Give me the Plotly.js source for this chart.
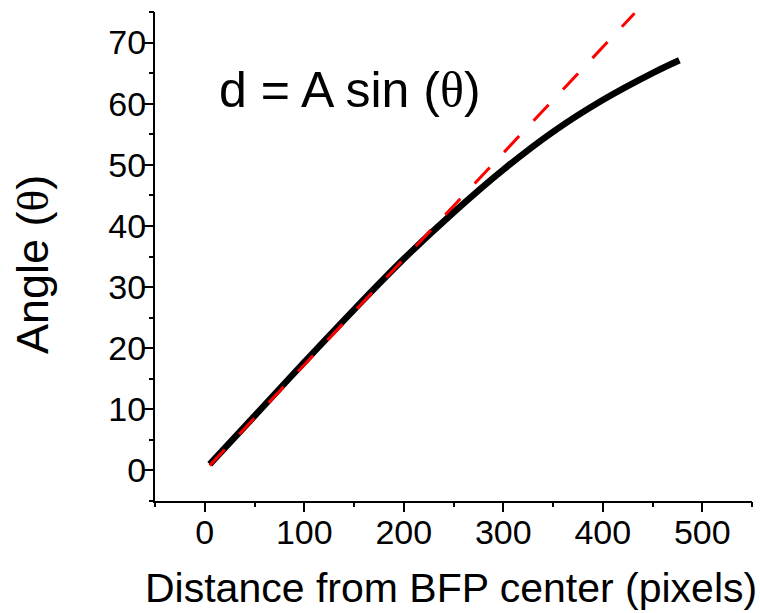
<!DOCTYPE html>
<html>
<head>
<meta charset="utf-8">
<script src="https://cdn.plot.ly/plotly-3.0.1.min.js"></script>
<style>html,body{margin:0;padding:0;background:#fff;}#chart{width:760px;height:613px;}</style>
</head>
<body>
<div id="chart"></div>
<script>
// Measured curve: angle vs distance from BFP center
var distance = [5, 50, 100, 150, 200, 250, 300, 350, 400, 450, 477];
var angle = [1.0, 8.9, 17.7, 26.3, 34.6, 42.2, 49.2, 55.4, 60.6, 65.0, 67.1];
// Linear (small-angle) approximation, red dashed
var linearDistance = [5, 432];
var linearAngle = [0.8, 74.8];
var xTickVals = [0, 100, 200, 300, 400, 500];
var yTickVals = [0, 10, 20, 30, 40, 50, 60, 70];
var xRange = [-50, 550];
var yRange = [-5, 75];
var xTitle = 'Distance from BFP center (pixels)';
var yTitle = 'Angle (<span style="font-family:Liberation Serif">θ</span>)';
var formula = 'd = A sin (<span style="font-family:Liberation Serif">θ</span>)';

var FONT = '"Liberation Sans", Arial, sans-serif';

var traces = [
  {x: distance, y: angle, type: 'scatter', mode: 'lines',
   line: {color: '#000000', width: 6.5, shape: 'spline', smoothing: 1}, hoverinfo: 'skip'},
  {x: linearDistance, y: linearAngle, type: 'scatter', mode: 'lines',
   line: {color: '#ff0000', width: 3, dash: '22px,21px'}, hoverinfo: 'skip'},
  {x: [], y: [], xaxis: 'x2', yaxis: 'y2', type: 'scatter', mode: 'lines', hoverinfo: 'skip'}
];

var tickAxis = function (range, dtick, minorDtick, anchor, overlay) {
  return {
    range: range, showgrid: false, zeroline: false, showline: false,
    overlaying: overlay, anchor: anchor,
    ticks: 'outside', ticklen: 10, tickwidth: 2, tickcolor: '#000',
    tick0: 0, dtick: dtick, showticklabels: false,
    minor: {dtick: minorDtick, tick0: 0, ticks: 'outside', ticklen: 5, tickwidth: 2, tickcolor: '#000'}
  };
};

var layout = {
  width: 760, height: 613,
  margin: {l: 155, r: 8, t: 12, b: 112, pad: 0},
  paper_bgcolor: '#ffffff', plot_bgcolor: '#ffffff',
  showlegend: false,
  font: {family: FONT, color: '#000000'},
  xaxis: {
    range: xRange, showgrid: false, zeroline: false,
    showline: true, linecolor: '#000', linewidth: 2, mirror: false,
    ticks: '', tickmode: 'array', tickvals: xTickVals,
    tickfont: {size: 34, family: FONT, color: '#000'}
  },
  yaxis: {
    range: yRange, showgrid: false, zeroline: false,
    showline: true, linecolor: '#000', linewidth: 2, mirror: false,
    ticks: '', tickmode: 'array', tickvals: yTickVals,
    tickfont: {size: 34, family: FONT, color: '#000'}
  },
  xaxis2: tickAxis(xRange, 100, 50, 'y2', 'x'),
  yaxis2: tickAxis(yRange, 10, 5, 'x2', 'y'),
  annotations: [
    {x: 12, y: 62.3, xref: 'x', yref: 'y', xanchor: 'left', yanchor: 'middle',
     showarrow: false, text: formula, font: {size: 50, family: FONT, color: '#000'}},
    {x: 0.4958, y: -0.178, xref: 'paper', yref: 'paper', xanchor: 'center', yanchor: 'middle',
     showarrow: false, text: xTitle, font: {size: 41, family: FONT, color: '#000'}},
    {x: -0.2060, y: 0.4826, xref: 'paper', yref: 'paper', xanchor: 'center', yanchor: 'middle',
     textangle: -90, showarrow: false, text: yTitle, font: {size: 45, family: FONT, color: '#000'}}
  ]
};

Plotly.newPlot('chart', traces, layout, {displayModeBar: false, staticPlot: true});
</script>
</body>
</html>
